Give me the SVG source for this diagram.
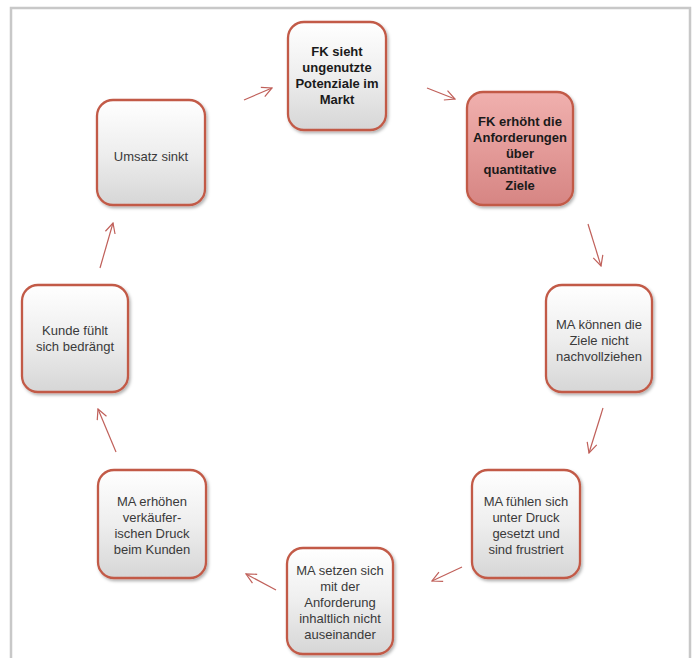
<svg xmlns="http://www.w3.org/2000/svg" width="695" height="658" viewBox="0 0 695 658">
<style>
.frame{stroke:#c8c8c8;stroke-width:2.5;fill:none}
.box{fill:url(#g);stroke:#c25a47;stroke-width:2.3;filter:url(#sh)}
.boxr{fill:url(#gr);stroke:#c25a47;stroke-width:2.3;filter:url(#sh)}
text{font-family:"Liberation Sans",Arial,sans-serif;font-size:13px;fill:#3a3a3a;text-anchor:middle}
.b{font-weight:bold;fill:#1a1a1a}
.c{stroke:#c0605a;stroke-width:1.2;fill:none;marker-end:url(#ah)}
</style>
<defs>
<linearGradient id="g" x1="0" y1="0" x2="0" y2="1">
<stop offset="0" stop-color="#ffffff"/><stop offset="0.5" stop-color="#eeeeee"/><stop offset="1" stop-color="#d6d6d6"/>
</linearGradient>
<linearGradient id="gr" x1="0" y1="0" x2="0" y2="1">
<stop offset="0" stop-color="#f0b0ae"/><stop offset="0.5" stop-color="#e49b99"/><stop offset="1" stop-color="#d68583"/>
</linearGradient>
<filter id="sh" x="-20%" y="-20%" width="140%" height="140%">
<feDropShadow dx="1.5" dy="2" stdDeviation="1.5" flood-color="#000" flood-opacity="0.3"/>
</filter>
<marker id="ah" viewBox="0 0 12 12" refX="11" refY="6" markerWidth="12" markerHeight="12" markerUnits="userSpaceOnUse" orient="auto">
<path d="M1,1 L11,6 L1,11" fill="none" stroke="#c0605a" stroke-width="1.2"/>
</marker>
</defs>
<path class="frame" d="M11,658 V8 H690 V658"/>
<g id="connectors">
<line class="c" x1="427" y1="88" x2="455" y2="99"/>
<line class="c" x1="588" y1="224" x2="601" y2="266"/>
<line class="c" x1="603" y1="408" x2="589" y2="453"/>
<line class="c" x1="462" y1="567" x2="432" y2="581"/>
<line class="c" x1="276" y1="590" x2="246" y2="574"/>
<line class="c" x1="116" y1="452" x2="98" y2="409"/>
<line class="c" x1="100" y1="268" x2="113" y2="223"/>
<line class="c" x1="244" y1="100" x2="272" y2="88"/>
</g>
<g id="n1"><rect class="box" x="288" y="22" width="98" height="108" rx="16"/>
<text class="b" x="337" y="56">FK sieht</text><text class="b" x="337" y="72">ungenutzte</text><text class="b" x="337" y="88">Potenziale im</text><text class="b" x="337" y="104">Markt</text></g>
<g id="n2"><rect class="boxr" x="467" y="92" width="106" height="113" rx="16"/>
<text class="b" x="520" y="126">FK erhöht die</text><text class="b" x="520" y="142">Anforderungen</text><text class="b" x="520" y="158">über</text><text class="b" x="520" y="174">quantitative</text><text class="b" x="520" y="190">Ziele</text></g>
<g id="n3"><rect class="box" x="546" y="285" width="106" height="107" rx="16"/>
<text x="599" y="329">MA können die</text><text x="599" y="345">Ziele nicht</text><text x="599" y="361">nachvollziehen</text></g>
<g id="n4"><rect class="box" x="472" y="470" width="108" height="108" rx="16"/>
<text x="526" y="506">MA fühlen sich</text><text x="526" y="522">unter Druck</text><text x="526" y="538">gesetzt und</text><text x="526" y="554">sind frustriert</text></g>
<g id="n5"><rect class="box" x="287" y="548" width="106" height="106" rx="16"/>
<text x="340" y="575">MA setzen sich</text><text x="340" y="591">mit der</text><text x="340" y="607">Anforderung</text><text x="340" y="623">inhaltlich nicht</text><text x="340" y="639">auseinander</text></g>
<g id="n6"><rect class="box" x="98" y="470" width="108" height="108" rx="16"/>
<text x="152" y="506">MA erhöhen</text><text x="152" y="522">verkäufer-</text><text x="152" y="538">ischen Druck</text><text x="152" y="554">beim Kunden</text></g>
<g id="n7"><rect class="box" x="22" y="285" width="106" height="107" rx="16"/>
<text x="75" y="335">Kunde fühlt</text><text x="75" y="351">sich bedrängt</text></g>
<g id="n8"><rect class="box" x="97" y="100" width="108" height="105" rx="16"/>
<text x="151" y="161">Umsatz sinkt</text></g>
</svg>
